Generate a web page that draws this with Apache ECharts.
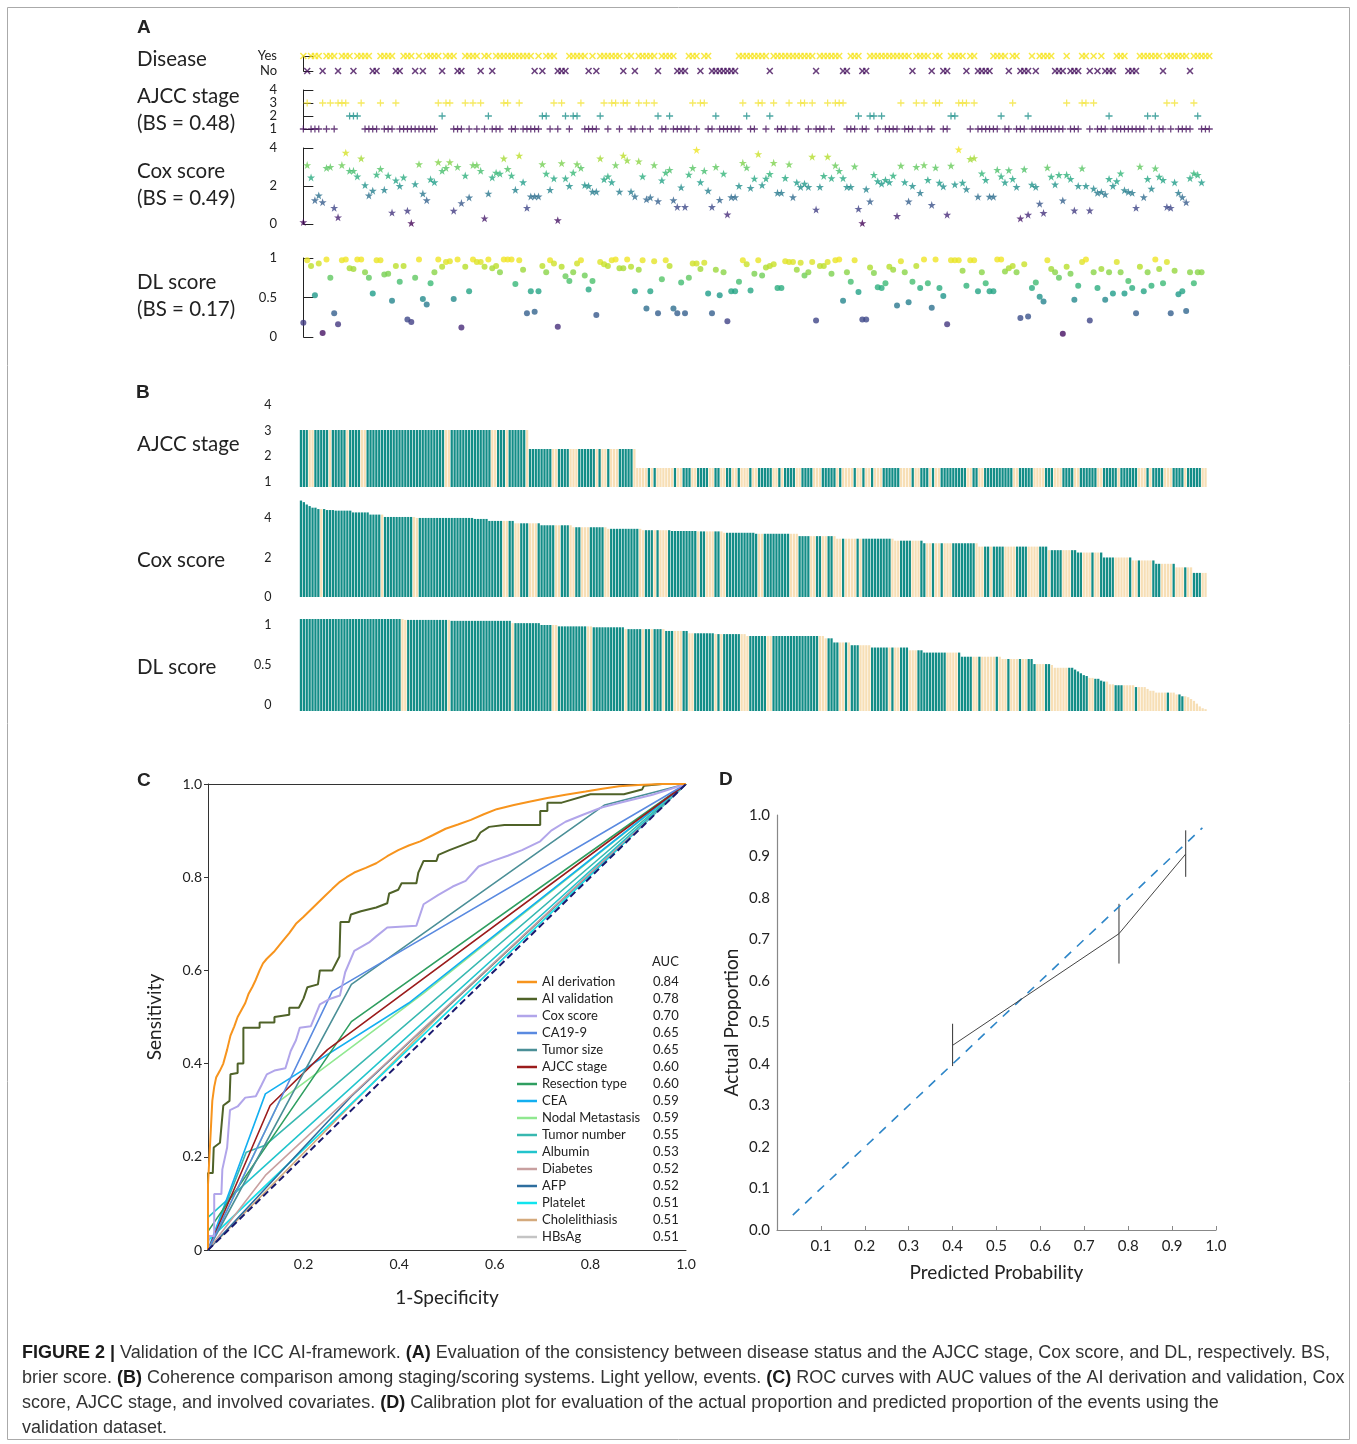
<!DOCTYPE html>
<html><head><meta charset="utf-8">
<script src="https://cdn.jsdelivr.net/npm/echarts@6/dist/echarts.min.js"></script>
<style>html,body{margin:0;padding:0;background:#fff}#c{width:1357px;height:1444px}</style>
</head><body><div id="c"></div>
<script>
// ---------------- Panel A data ----------------
const aPatientCount = 236;
const aDiseaseNoIdx = [1,5,9,13,18,19,24,25,29,31,36,40,41,46,49,60,62,66,67,68,74,76,83,86,92,97,98,99,103,106,107,108,109,110,111,112,121,133,140,141,145,146,158,163,166,167,172,175,176,177,178,183,186,187,188,190,195,196,197,199,200,201,204,206,208,209,210,214,215,216,223,230];
const aStage3Idx = [1,5,7,9,10,11,15,20,24,35,37,38,42,44,46,52,53,56,65,67,72,78,80,81,83,84,87,89,91,101,103,104,114,118,119,122,126,129,130,132,136,138,139,140,155,159,161,164,165,170,171,172,174,184,198,202,203,205,224,226,231];
const aStage2Idx = [12,13,14,36,48,62,63,68,70,71,77,92,95,107,115,121,144,147,148,150,168,169,181,188,209,219,221,232];
const aCoxScore = [0.1,3.1,2.45,1.25,1.5,1.15,2.95,3.0,0.85,0.35,3.1,3.75,2.8,2.8,2.5,3.45,2.05,1.5,1.75,2.6,2.9,1.8,2.55,0.6,2.3,2.0,2.45,0.7,0.05,2.1,3.15,1.6,1.25,2.35,2.2,3.25,2.8,2.95,3.25,0.7,3.0,1.1,2.55,1.4,3.1,3.1,2.8,0.3,1.6,2.45,2.7,2.65,3.45,2.9,2.55,1.8,3.6,2.2,0.85,1.45,1.45,1.45,3.15,2.65,1.8,2.4,0.2,3.2,2.4,2.0,2.7,3.15,2.95,2.05,2.0,1.7,1.7,3.45,2.35,2.5,2.2,3.1,1.7,3.6,3.35,1.7,1.45,3.3,2.5,1.3,1.4,3.1,1.2,2.3,2.7,2.85,1.25,0.9,1.93,0.9,2.6,2.95,3.9,2.2,2.8,1.75,0.9,3.0,1.27,2.65,0.5,
1.41,1.41,2.0,3.22,2.97,1.9,2.39,3.68,2.05,2.39,2.63,3.22,1.64,1.64,2.42,3.14,1.41,2.19,1.95,2.12,1.95,3.54,0.76,1.95,2.53,3.54,2.41,3.08,2.8,2.41,1.95,1.95,3.03,0.8,0.05,1.83,1.19,2.59,2.25,2.12,2.32,2.2,2.54,0.42,3.07,2.2,1.19,2.0,3.0,1.64,3.1,2.32,1.0,2.97,2.17,1.98,0.49,3.07,2.08,3.92,2.17,1.83,3.42,3.47,1.44,2.66,2.32,1.44,1.44,2.85,2.51,2.19,2.83,2.37,1.95,0.29,2.88,0.49,2.07,1.95,1.07,0.58,2.97,2.49,2.08,2.58,1.24,2.59,2.37,0.71,2.0,2.93,2.0,0.71,1.86,1.64,1.69,1.56,2.37,2.0,2.25,2.66,1.78,1.69,1.64,0.85,3.02,1.41,2.37,1.86,2.93,2.49,2.32,0.9,0.85,2.19,1.64,1.41,1.14,2.41,2.66,2.59,2.19];
const aDLScore = [0.18,0.97,0.9,0.53,0.93,0.05,0.98,0.75,0.3,0.16,0.97,0.98,0.87,0.86,0.98,0.98,0.82,0.75,0.55,0.97,0.97,0.79,0.8,0.46,0.9,0.7,0.9,0.22,0.19,0.75,0.98,0.48,0.41,0.68,0.82,0.98,0.89,0.95,0.96,0.48,0.98,0.12,0.89,0.58,0.98,0.95,0.95,0.89,0.98,0.87,0.9,0.82,0.98,0.98,0.98,0.67,0.97,0.85,0.3,0.58,0.32,0.58,0.9,0.82,0.97,0.93,0.13,0.89,0.77,0.71,0.82,0.93,0.97,0.78,0.6,0.71,0.28,0.95,0.92,0.9,0.97,0.98,0.87,0.87,0.98,0.89,0.58,0.85,0.97,0.36,0.58,0.96,0.3,0.73,0.97,0.9,0.36,0.3,0.69,0.3,0.75,0.93,0.93,0.86,0.94,0.55,0.3,0.85,0.53,0.82,0.2,
0.58,0.58,0.7,0.97,0.92,0.59,0.8,0.97,0.78,0.88,0.9,0.92,0.62,0.62,0.96,0.95,0.95,0.85,0.94,0.78,0.82,0.95,0.21,0.9,0.9,0.95,0.8,0.97,0.98,0.46,0.82,0.7,0.97,0.57,0.22,0.22,0.88,0.81,0.63,0.62,0.68,0.89,0.85,0.4,0.96,0.82,0.44,0.7,0.9,0.62,0.98,0.68,0.37,0.98,0.62,0.52,0.16,0.97,0.97,0.97,0.84,0.65,0.97,0.97,0.58,0.82,0.68,0.58,0.58,0.98,0.98,0.83,0.87,0.9,0.82,0.24,0.92,0.26,0.62,0.69,0.51,0.45,0.97,0.86,0.82,0.75,0.04,0.89,0.8,0.47,0.65,0.95,0.98,0.21,0.82,0.62,0.86,0.47,0.82,0.55,0.95,0.82,0.55,0.71,0.62,0.3,0.89,0.58,0.82,0.65,0.98,0.86,0.68,0.95,0.3,0.84,0.54,0.58,0.33,0.82,0.68,0.82,0.82];
const aDiseaseTicks = ['No','Yes'];

// ---------------- Panel B data (sorted patients) ----------------
// height runs: [value, count]; event runs: alternating counts starting with non-event
const bAjccHeightRuns = [[3,79],[2,37],[1,197]];
const bAjccEventRuns = [3,2,5,1,5,1,4,2,27,2,14,2,3,1,6,1,8,2,4,3,6,1,1,2,1,3,5,5,1,1,1,6,1,2,3,2,4,2,2,2,2,2,1,3,1,2,5,2,1,1,4,2,4,3,5,1,1,4,1,2,1,2,1,3,6,4,1,2,3,1,1,2,9,2,2,2,10,2,5,4,3,3,4,2,6,2,5,1,6,3,1,1,4,3,4,1,5,2];
const bCoxHeightRuns = [[4.88,1],[4.8,1],[4.68,1],[4.6,1],[4.52,2],[4.45,3],[4.4,3],[4.37,6],[4.28,6],[4.17,5],[4.05,11],[4.0,20],[3.95,5],[3.85,9],[3.73,9],[3.63,11],[3.53,12],[3.45,12],[3.38,10],[3.34,9],[3.32,9],[3.25,11],[3.2,15],[3.08,13],[2.95,20],[2.85,10],[2.72,19],[2.55,24],[2.37,10],[2.25,9],[2.0,10],[1.85,8],[1.68,7],[1.5,6],[1.22,5]];
const bCoxEventRuns = [7,1,20,1,10,2,29,2,2,2,3,3,6,2,3,2,2,3,5,2,10,2,3,1,1,3,10,1,2,3,2,2,11,2,9,3,4,2,2,2,2,3,1,4,1,1,10,3,4,3,2,2,1,2,1,3,8,3,2,1,4,4,4,4,3,1,4,3,4,3,1,2,5,5,1,2,1,4,3,4,1,3,1,2,3,2];
const bDLHeightRuns = [[1.0,36],[0.99,16],[0.98,21],[0.955,10],[0.935,6],[0.92,12],[0.91,11],[0.89,14],[0.87,8],[0.845,9],[0.836,11],[0.815,27],[0.79,3],[0.745,6],[0.715,7],[0.69,13],[0.66,5],[0.635,13],[0.59,14],[0.565,11],[0.51,6],[0.5,1],[0.47,7],[0.45,1],[0.43,1],[0.41,1],[0.39,1],[0.38,1],[0.36,2],[0.35,2],[0.33,1],[0.32,2],[0.29,2],[0.28,7],[0.26,4],[0.24,1],[0.22,2],[0.2,7],[0.18,2],[0.16,2],[0.15,1],[0.13,1],[0.11,1],[0.08,1],[0.05,1],[0.03,1],[0.02,1]];
const bDLEventRuns = [35,2,14,1,21,1,13,2,10,2,11,1,5,1,2,1,3,1,3,3,2,2,7,1,1,1,6,3,6,2,16,3,4,2,1,1,3,4,6,1,1,2,3,3,10,4,5,2,1,5,1,3,1,3,1,2,3,3,2,6,7,2,4,3,3,4,1,10,1,3,2,8];
const bAjccTicks = [1,2,3,4];
const bCoxTicks = [0,2,4];
const bDLTicks = [0,0.5,1];

// ---------------- Panel C data (ROC) ----------------
const rocNames = ['AI derivation','AI validation','Cox score','CA19-9','Tumor size','AJCC stage','Resection type','CEA','Nodal Metastasis','Tumor number','Albumin','Diabetes','AFP','Platelet','Cholelithiasis','HBsAg'];
const rocAUC = ['0.84','0.78','0.70','0.65','0.65','0.60','0.60','0.59','0.59','0.55','0.53','0.52','0.52','0.51','0.51','0.51'];
const rocAIDerivation = [[0,0],[0,0.14],[0.003,0.2],[0.006,0.26],[0.009,0.32],[0.013,0.35],[0.017,0.37],[0.025,0.385],[0.032,0.40],[0.04,0.43],[0.047,0.46],[0.055,0.48],[0.062,0.50],[0.07,0.515],[0.078,0.53],[0.085,0.55],[0.093,0.565],[0.1,0.58],[0.108,0.60],[0.115,0.615],[0.123,0.625],[0.138,0.64],[0.154,0.66],[0.17,0.68],[0.184,0.70],[0.2,0.715],[0.215,0.73],[0.23,0.745],[0.245,0.76],[0.26,0.775],[0.276,0.79],[0.29,0.80],[0.306,0.81],[0.33,0.82],[0.352,0.83],[0.375,0.845],[0.398,0.858],[0.42,0.868],[0.444,0.877],[0.47,0.89],[0.497,0.904],[0.523,0.913],[0.55,0.923],[0.577,0.935],[0.604,0.946],[0.64,0.955],[0.672,0.962],[0.71,0.97],[0.748,0.977],[0.79,0.984],[0.825,0.99],[0.86,0.995],[0.9,0.998],[0.95,1],[1,1]];
const rocAIValidation = [[0,0],[0,0.165],[0.01,0.165],[0.012,0.22],[0.025,0.23],[0.032,0.31],[0.045,0.32],[0.047,0.377],[0.062,0.38],[0.062,0.40],[0.074,0.40],[0.074,0.42],[0.074,0.477],[0.108,0.477],[0.108,0.488],[0.139,0.488],[0.139,0.50],[0.17,0.505],[0.17,0.52],[0.19,0.52],[0.2,0.54],[0.208,0.564],[0.23,0.57],[0.234,0.60],[0.26,0.60],[0.275,0.63],[0.277,0.704],[0.295,0.704],[0.299,0.72],[0.32,0.727],[0.352,0.735],[0.375,0.744],[0.379,0.765],[0.398,0.773],[0.405,0.787],[0.436,0.787],[0.44,0.81],[0.451,0.835],[0.478,0.835],[0.482,0.848],[0.505,0.858],[0.535,0.87],[0.56,0.88],[0.57,0.896],[0.588,0.908],[0.62,0.912],[0.695,0.912],[0.695,0.942],[0.71,0.942],[0.71,0.96],[0.74,0.96],[0.8,0.978],[0.87,0.978],[0.908,0.988],[0.912,0.996],[0.95,1],[1,1]];
const rocCoxScore = [[0,0],[0.002,0.03],[0.013,0.03],[0.013,0.12],[0.028,0.12],[0.03,0.173],[0.04,0.22],[0.046,0.3],[0.062,0.308],[0.078,0.327],[0.1,0.33],[0.112,0.354],[0.123,0.377],[0.139,0.385],[0.162,0.39],[0.173,0.427],[0.184,0.45],[0.192,0.477],[0.215,0.48],[0.234,0.527],[0.253,0.538],[0.276,0.546],[0.287,0.596],[0.306,0.642],[0.337,0.66],[0.352,0.673],[0.375,0.692],[0.436,0.696],[0.451,0.742],[0.482,0.762],[0.512,0.78],[0.539,0.792],[0.566,0.823],[0.596,0.835],[0.627,0.846],[0.657,0.858],[0.695,0.877],[0.718,0.9],[0.748,0.919],[0.787,0.935],[0.825,0.95],[0.87,0.962],[0.93,0.977],[1,1]];
const rocCA199 = [[0,0],[0.26,0.555],[1,1]];
const rocTumorSize = [[0,0],[0.3,0.57],[0.83,0.955],[1,1]];
const rocAJCC = [[0,0],[0.13,0.31],[0.25,0.43],[1,1]];
const rocResection = [[0,0],[0,0.04],[0.3,0.49],[1,1]];
const rocCEA = [[0,0],[0.12,0.335],[0.42,0.53],[1,1]];
const rocNodal = [[0,0],[0.15,0.32],[0.45,0.55],[1,1]];
const rocTumorNumber = [[0,0],[0.08,0.21],[0.12,0.225],[1,1]];
const rocAlbumin = [[0,0],[0,0.07],[1,1]];
const rocDiabetes = [[0,0],[0.12,0.16],[1,1]];
const rocAFP = [[0,0],[0.3,0.33],[1,1]];
const rocPlatelet = [[0,0],[0,0.02],[1,1]];
const rocCholelithiasis = [[0,0],[0.5,0.52],[1,1]];
const rocHBsAg = [[0,0],[0.02,0.04],[1,1]];
const rocChance = [[0,0],[1,1]];

// ---------------- Panel D data (calibration) ----------------
const calPredicted = [0.40,0.779,0.931];
const calActual = [0.445,0.714,0.906];
const calLow = [0.395,0.642,0.851];
const calHigh = [0.497,0.786,0.963];
const calIdeal = [[0.036,0.036],[0.969,0.969]];

// ---------------- caption text ----------------
const captionLines = [
  [['FIGURE 2 |',1],[' Validation of the ICC AI-framework. ',0],['(A)',1],[' Evaluation of the consistency between disease status and the AJCC stage, Cox score, and DL, respectively. BS,',0]],
  [['brier score. ',0],['(B)',1],[' Coherence comparison among staging/scoring systems. Light yellow, events. ',0],['(C)',1],[' ROC curves with AUC values of the AI derivation and validation, Cox',0]],
  [['score, AJCC stage, and involved covariates. ',0],['(D)',1],[' Calibration plot for evaluation of the actual proportion and predicted proportion of the events using the',0]],
  [['validation dataset.',0]]
];

// ---------------- styles ----------------
const VIRIDIS = ['#440154','#482878','#3e4989','#31688e','#26828e','#1f9e89','#35b779','#6ece58','#b5de2b','#fde725'];
const TEAL = '#138d87', BEIGE = '#f7dfb6';
const FONT = 'Lato, "Open Sans", sans-serif';
const rocStyles = [
  ['#f7941d',2],['#4f6228',2],['#b1a5ea',2],['#5a8ae0',1.6],['#4b8f97',1.6],['#9b1c1c',1.6],['#2f9e60',1.6],['#13aff0',1.6],
  ['#90e890',1.6],['#38b8b0',1.6],['#22c4cc',1.6],['#c8a0a0',1.6],['#2e6e9e',1.6],['#10e4ee',1.6],['#d4aa7d',1.6],['#c4c4c4',1.6]
];
const rocData = [rocAIDerivation,rocAIValidation,rocCoxScore,rocCA199,rocTumorSize,rocAJCC,rocResection,rocCEA,rocNodal,rocTumorNumber,rocAlbumin,rocDiabetes,rocAFP,rocPlatelet,rocCholelithiasis,rocHBsAg];

function expandRuns(runs){const out=[];runs.forEach(r=>{for(let k=0;k<r[1];k++)out.push(r[0]);});return out;}
function expandAlt(runs){const out=[];runs.forEach((n,j)=>{for(let k=0;k<n;k++)out.push(j%2);});return out;}
function barData(hRuns,eRuns){const h=expandRuns(hRuns),e=expandAlt(eRuns);return h.map((v,i)=>({value:v,itemStyle:{color:e[i]?BEIGE:TEAL}}));}

const SYM_X='path://M0,1.6L1.6,0L5,3.4L8.4,0L10,1.6L6.6,5L10,8.4L8.4,10L5,6.6L1.6,10L0,8.4L3.4,5Z';
const SYM_PLUS='path://M4.1,0H5.9V4.1H10V5.9H5.9V10H4.1V5.9H0V4.1H4.1Z';
const SYM_STAR='path://M50,0L61.8,35.1L98.1,35.1L68.8,56.8L79.4,90.9L50,69.5L20.6,90.9L31.2,56.8L1.9,35.1L38.2,35.1Z';

const idxAll=[...Array(aPatientCount).keys()];
const yesData=idxAll.filter(i=>!aDiseaseNoIdx.includes(i)).map(i=>[i,1]);
const noData=aDiseaseNoIdx.map(i=>[i,0]);
const st3=aStage3Idx.map(i=>[i,3]), st2=aStage2Idx.map(i=>[i,2]);
const st1=idxAll.filter(i=>!aStage3Idx.includes(i)&&!aStage2Idx.includes(i)).map(i=>[i,1]);

const AX_LINE={show:true,lineStyle:{color:'#222',width:1}};
function aY(grid,min,max,interval,fmt){return {type:'value',gridIndex:grid,min,max,interval,
  axisLine:AX_LINE,axisTick:{show:true,inside:true,length:10,lineStyle:{color:'#222'}},splitLine:{show:false},
  axisLabel:{margin:9,fontSize:13,color:'#222',fontFamily:FONT,formatter:fmt}};}
function aX(grid){return {type:'value',gridIndex:grid,min:-4.5,max:237,show:false};}
function bX(grid,n){return {type:'category',gridIndex:grid,data:[...Array(n).keys()],show:false};}
function lblY(grid,min,max,vals){return {type:'value',gridIndex:grid,min,max,position:'left',axisLine:{show:false},axisTick:{show:false},splitLine:{show:false},
  axisLabel:{customValues:vals,margin:28,fontSize:12.5,color:'#222',fontFamily:FONT}};}

const bAjcc=barData(bAjccHeightRuns,bAjccEventRuns), bCox=barData(bCoxHeightRuns,bCoxEventRuns), bDL=barData(bDLHeightRuns,bDLEventRuns);

const series=[
  {type:'scatter',xAxisIndex:0,yAxisIndex:0,data:yesData,symbol:SYM_X,symbolSize:7,itemStyle:{color:'#f6e31c'},clip:false},
  {type:'scatter',xAxisIndex:0,yAxisIndex:0,data:noData,symbol:SYM_X,symbolSize:7,itemStyle:{color:'#46125e'},clip:false},
  {type:'scatter',xAxisIndex:1,yAxisIndex:1,data:st3,symbol:SYM_PLUS,symbolSize:7,itemStyle:{color:'#f2e33a'},clip:false},
  {type:'scatter',xAxisIndex:1,yAxisIndex:1,data:st2,symbol:SYM_PLUS,symbolSize:7,itemStyle:{color:'#21918c'},clip:false},
  {type:'scatter',xAxisIndex:1,yAxisIndex:1,data:st1,symbol:SYM_PLUS,symbolSize:7,itemStyle:{color:'#46125e'},clip:false},
  {type:'scatter',xAxisIndex:2,yAxisIndex:2,data:aCoxScore.map((v,i)=>[i,v]),symbol:SYM_STAR,symbolSize:8,clip:false},
  {type:'scatter',xAxisIndex:3,yAxisIndex:3,data:aDLScore.map((v,i)=>[i,v]),symbol:'circle',symbolSize:6,clip:false},
  {type:'bar',xAxisIndex:4,yAxisIndex:4,data:bAjcc,barCategoryGap:'22%'},
  {type:'bar',xAxisIndex:5,yAxisIndex:6,data:bCox,barCategoryGap:'22%'},
  {type:'bar',xAxisIndex:6,yAxisIndex:7,data:bDL,barCategoryGap:'22%'}
];
rocNames.forEach((nm,i)=>{series.push({type:'line',name:nm,xAxisIndex:7,yAxisIndex:9,data:rocData[i],showSymbol:false,symbol:'none',
  lineStyle:{color:rocStyles[i][0],width:rocStyles[i][1]},itemStyle:{color:rocStyles[i][0]},z:20-i});});
series.push({type:'line',xAxisIndex:7,yAxisIndex:9,data:rocChance,showSymbol:false,symbol:'none',lineStyle:{color:'#1a1a6e',width:2,type:[7,4]},z:25});
series.push({type:'line',xAxisIndex:9,yAxisIndex:10,data:calIdeal,showSymbol:false,symbol:'none',lineStyle:{color:'#2e86c8',width:1.6,type:[9,8]}});
series.push({type:'line',xAxisIndex:9,yAxisIndex:10,data:calPredicted.map((p,i)=>[p,calActual[i]]),showSymbol:false,symbol:'none',lineStyle:{color:'#444',width:1}});
series.push({type:'custom',xAxisIndex:9,yAxisIndex:10,data:calPredicted.map((p,i)=>[p,calLow[i],calHigh[i]]),
  renderItem:(params,api)=>{const a=api.coord([api.value(0),api.value(1)]),b=api.coord([api.value(0),api.value(2)]);
    return {type:'line',shape:{x1:a[0],y1:a[1],x2:b[0],y2:b[1]},style:{stroke:'#333',lineWidth:1}};}});

function txt(x,y,s,size,opt){return {type:'text',x,y,style:Object.assign({text:s,fill:'#222',fontSize:size,fontFamily:FONT,verticalAlign:'middle',textVerticalAlign:'middle'},opt||{})};}

// caption: Arial-metric font squeezed horizontally so line 1 spans the reference width
const CAP_FONT='"Liberation Sans", Arial, sans-serif', CAP_SIZE=18;
const mctx=document.createElement('canvas').getContext('2d');
function segW(s,b){mctx.font=(b?'bold ':'')+CAP_SIZE+'px '+CAP_FONT;return mctx.measureText(s).width;}
const line1W=captionLines[0].reduce((a,seg)=>a+segW(seg[0],seg[1]),0);
const capScale=Math.min(1,1312/line1W);
const capRich={b:{fontWeight:'bold',fontFamily:CAP_FONT,fontSize:CAP_SIZE,fill:'#1a1a1a'},r:{fontFamily:CAP_FONT,fontSize:CAP_SIZE,fill:'#333'}};
function cap(y,segs){const s=segs.map(g=>'{'+(g[1]?'b':'r')+'|'+g[0]+'}').join('');
  return {type:'text',x:22,y,scaleX:capScale,style:{text:s,rich:capRich,fontFamily:CAP_FONT,fontSize:CAP_SIZE,fill:'#333',verticalAlign:'middle',textVerticalAlign:'middle'}};}

const BOLD_LETTER={fontWeight:'bold',fontFamily:'"Liberation Sans",Arial,sans-serif'};
const graphic=[
  {type:'rect',shape:{x:7.5,y:7.5,width:1342,height:1432},style:{fill:'none',stroke:'#aaa',lineWidth:1}},
  txt(137,28,'A',19,BOLD_LETTER), txt(136,393,'B',19,BOLD_LETTER), txt(137,781,'C',19,BOLD_LETTER), txt(719,780,'D',19,BOLD_LETTER),
  txt(137,59,'Disease',20.5), txt(137,96,'AJCC stage',20.5), txt(137,123,'(BS = 0.48)',20.5),
  txt(137,171,'Cox score',20.5), txt(137,198,'(BS = 0.49)',20.5),
  txt(137,282,'DL score',20.5), txt(137,309,'(BS = 0.17)',20.5),
  txt(137,444,'AJCC stage',20.5), txt(137,560,'Cox score',20.5), txt(137,667,'DL score',20.5),
  txt(652,962,'AUC',13)
].concat(captionLines.map((segs,i)=>cap(1353+25*i,segs)));

const option={
  animation:false,backgroundColor:'#fff',
  grid:[
    {left:286,width:931,top:56,height:15},
    {left:286,width:931,top:90,height:39},
    {left:286,width:931,top:148,height:76},
    {left:286,width:931,top:258,height:79},
    {left:299.5,width:907.5,top:405,height:82},
    {left:299.5,width:907.5,top:497,height:100},
    {left:299.5,width:907.5,top:619,height:92},
    {left:208,width:478,top:784,height:466},
    {left:777,width:439,top:815,height:415}
  ],
  xAxis:[aX(0),aX(1),aX(2),aX(3),bX(4,bAjcc.length),bX(5,bCox.length),bX(6,bDL.length),
    {type:'value',gridIndex:7,min:0,max:1,interval:0.2,axisLine:{show:true,lineStyle:{color:'#333'}},axisTick:{show:false},splitLine:{show:false},
      axisLabel:{margin:7,fontSize:14,color:'#222',fontFamily:FONT,formatter:v=>v===0?'':v.toFixed(1)},
      name:'1-Specificity',nameLocation:'middle',nameGap:38,nameTextStyle:{fontSize:19,color:'#222',fontFamily:FONT}},
    {type:'value',gridIndex:7,min:0,max:1,position:'top',axisLine:{show:true,lineStyle:{color:'#333'}},axisTick:{show:false},axisLabel:{show:false},splitLine:{show:false}},
    {type:'value',gridIndex:8,min:0,max:1,interval:0.1,axisLine:{show:true,lineStyle:{color:'#888',width:1.2}},axisTick:{show:true,inside:true,length:4,lineStyle:{color:'#888'}},splitLine:{show:false},
      axisLabel:{margin:9,fontSize:15,color:'#222',fontFamily:FONT,formatter:v=>v===0?'':v.toFixed(1)},
      name:'Predicted Probability',nameLocation:'middle',nameGap:33,nameTextStyle:{fontSize:19,color:'#222',fontFamily:FONT}}
  ],
  yAxis:[
    aY(0,0,1,1,v=>aDiseaseTicks[v]),
    aY(1,1,4,1),
    aY(2,0,4,2),
    aY(3,0,1,0.5),
    {type:'value',gridIndex:4,min:0,max:4.316,show:false},
    lblY(4,0.805,4,bAjccTicks),
    lblY(5,0,5.06,bCoxTicks),
    {type:'value',gridIndex:6,min:0,max:1,show:false},
    lblY(6,-0.075,1.075,bDLTicks),
    {type:'value',gridIndex:7,min:0,max:1,interval:0.2,axisLine:{show:true,lineStyle:{color:'#333'}},axisTick:{show:true,length:4,lineStyle:{color:'#333'}},splitLine:{show:false},
      axisLabel:{margin:6,fontSize:14,color:'#222',fontFamily:FONT,formatter:v=>v===0?'0':v.toFixed(1)},
      name:'Sensitivity',nameLocation:'middle',nameGap:44,nameRotate:90,nameTextStyle:{fontSize:19,color:'#222',fontFamily:FONT}},
    {type:'value',gridIndex:8,min:0,max:1,interval:0.1,axisLine:{show:true,lineStyle:{color:'#888',width:1.2}},axisTick:{show:false},splitLine:{show:false},
      axisLabel:{margin:7,fontSize:15,color:'#222',fontFamily:FONT,formatter:v=>v.toFixed(1)},
      name:'Actual Proportion',nameLocation:'middle',nameGap:36,nameRotate:90,nameTextStyle:{fontSize:19,color:'#222',fontFamily:FONT}}
  ],
  visualMap:[
    {type:'continuous',show:false,seriesIndex:5,dimension:1,min:0,max:4,inRange:{color:VIRIDIS}},
    {type:'continuous',show:false,seriesIndex:6,dimension:1,min:0,max:1,inRange:{color:VIRIDIS}}
  ],
  legend:{data:rocNames,orient:'vertical',left:517,top:973.5,padding:0,itemWidth:20,itemHeight:2.5,itemGap:0,icon:'rect',selectedMode:false,
    formatter:nm=>'{n|'+nm+'}{v|'+rocAUC[rocNames.indexOf(nm)]+'}',
    textStyle:{fontSize:13,color:'#222',fontFamily:FONT,lineHeight:17,
      rich:{n:{width:111,fontSize:13,fontFamily:FONT,lineHeight:17,color:'#222'},v:{fontSize:13,fontFamily:FONT,lineHeight:17,color:'#222'}}}},
  graphic:graphic,
  series:series
};
const chart=echarts.init(document.getElementById('c'),null,{renderer:'canvas'});
chart.setOption(option);
</script></body></html>
